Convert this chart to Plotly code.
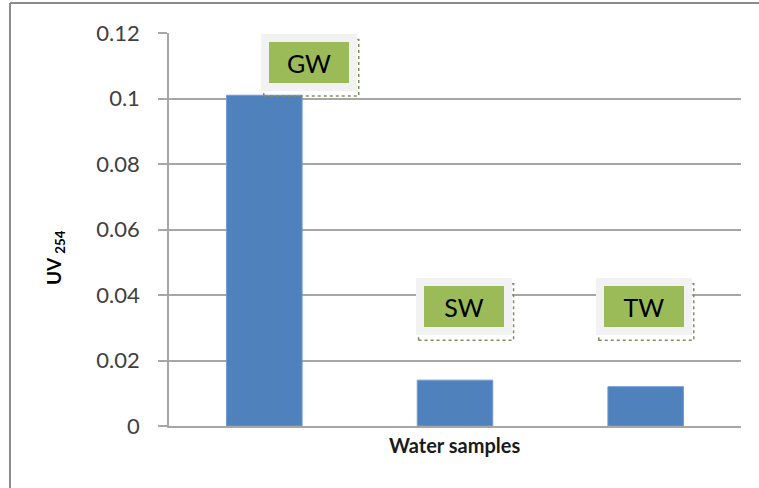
import plotly.graph_objects as go

# UV254 absorbance for each water sample type
samples = ["GW", "SW", "TW"]
uv254 = [0.101, 0.014, 0.012]

# callout boxes: category position (fractional index) and height in data units
label_x = [0.233, 1.045, 1.99]
label_y = [0.111, 0.0364, 0.0364]

W, H = 759, 488
ML, MR, MT, MB = 169, 18, 33, 62
PW, PH = W - ML - MR, H - MT - MB

FONT = "Lato"
GRID = "#a6a6a6"
BAR = "#4f81bd"
GREEN = "#9bbb59"


def px_x(px):
    return (px - ML) / PW


def px_y(py):
    return (H - MB - py) / PH


fig = go.Figure(
    go.Bar(
        x=samples,
        y=uv254,
        marker=dict(color=BAR, line=dict(color="#6f9bd1", width=1)),
        width=0.396,
        showlegend=False,
    )
)

annotations = []
shapes = []
for name, lx, ly in zip(samples, label_x, label_y):
    # dotted drop shadow behind each callout
    shapes.append(
        dict(
            type="rect",
            xref="x", yref="y",
            xsizemode="pixel", ysizemode="pixel",
            xanchor=lx, yanchor=ly,
            x0=-45, x1=50, y0=-33.5, y1=23,
            line=dict(color="#7f8f62", width=1.5, dash="dot"),
            fillcolor="rgba(0,0,0,0)",
        )
    )
    annotations.append(
        dict(
            x=lx, y=ly, xref="x", yref="y",
            text=name, showarrow=False,
            font=dict(family=FONT, size=25, color="#000000"),
            bgcolor=GREEN, bordercolor="#f2f2f2",
            borderwidth=8, borderpad=0,
            width=80, height=41,
        )
    )

# axis titles
annotations.append(
    dict(
        x=px_x(55), y=px_y(258), xref="paper", yref="paper",
        xanchor="center", yanchor="middle",
        text="<b>UV <sub>254</sub></b>", textangle=-90, showarrow=False,
        font=dict(family=FONT, size=19, color="#000000"),
    )
)
annotations.append(
    dict(
        x=px_x(454), y=px_y(445), xref="paper", yref="paper",
        xanchor="center", yanchor="middle",
        text="<b>Water samples</b>", showarrow=False,
        font=dict(family=FONT, size=20, color="#1a1a1a"),
    )
)

# outer chart frame (left and top edges)
shapes.append(
    dict(type="line", xref="paper", yref="paper",
         x0=px_x(10), x1=px_x(10), y0=px_y(3), y1=px_y(H + 5),
         line=dict(color="#8c8c8c", width=2))
)
shapes.append(
    dict(type="line", xref="paper", yref="paper",
         x0=px_x(10), x1=px_x(W + 5), y0=px_y(3), y1=px_y(3),
         line=dict(color="#8c8c8c", width=2))
)

fig.update_layout(
    width=W, height=H,
    margin=dict(l=ML, r=MR, t=MT, b=MB, autoexpand=False),
    paper_bgcolor="#ffffff",
    plot_bgcolor="#ffffff",
    font=dict(family=FONT, color="#404040"),
    annotations=annotations,
    shapes=shapes,
    bargap=0.6,
)

fig.update_xaxes(
    type="category",
    showticklabels=False,
    ticks="",
    showline=True, linecolor=GRID, linewidth=1.5,
    showgrid=False,
    range=[-0.5, 2.5],
)

fig.update_yaxes(
    range=[0, 0.12],
    dtick=0.02,
    tick0=0,
    ticks="outside", ticklen=9, tickcolor=GRID, tickwidth=1.5,
    ticklabelstandoff=14,
    tickfont=dict(family=FONT, size=22, color="#404040"),
    showline=True, linecolor=GRID, linewidth=1.5,
    showgrid=True, gridcolor=GRID, gridwidth=1.5,
    zeroline=False,
)

fig.write_html("out.html")
